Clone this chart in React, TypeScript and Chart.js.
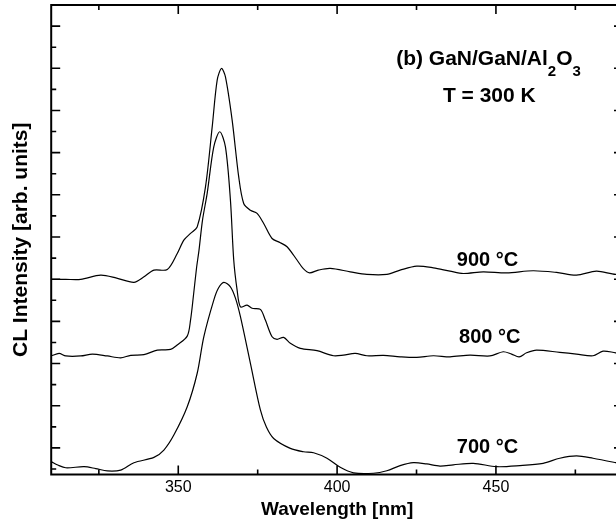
import React, { useEffect, useRef } from "react";
import { Chart, registerables } from "chart.js";

Chart.register(...registerables);

// ---- Data (wavelength in nm, CL intensity in arbitrary units) ----
const wl900 = [310.0, 314.59, 319.3, 325.58, 330.61, 336.04, 339.09, 342.33, 346.54, 349.68, 351.75, 353.86, 355.96, 358.57, 360.68, 362.25, 363.6, 364.85, 366.96, 369.03, 370.6, 372.71, 374.81, 376.89, 379.53, 382.13, 384.24, 387.38, 389.36, 391.34, 394.07, 397.84, 404.13, 409.37, 415.66, 419.83, 425.08, 430.3, 435.54, 439.72, 446.0, 453.36, 461.71, 469.06, 475.35, 481.63, 487.69, 490.0];
const cl900 = [9.99, 9.99, 9.99, 10.19, 10.05, 9.85, 10.1, 10.43, 10.46, 11.22, 11.85, 12.17, 12.48, 14.38, 17.22, 19.44, 19.99, 19.59, 17.54, 14.85, 13.59, 13.27, 13.12, 12.64, 11.93, 11.73, 11.54, 10.91, 10.5, 10.3, 10.43, 10.51, 10.35, 10.23, 10.23, 10.43, 10.62, 10.54, 10.38, 10.27, 10.35, 10.3, 10.4, 10.32, 10.19, 10.38, 10.23, 10.3];

const wl800 = [310.0, 312.48, 314.59, 319.3, 322.98, 327.69, 331.87, 335.01, 339.19, 343.4, 347.57, 349.68, 352.82, 353.86, 354.8, 355.75, 356.53, 357.63, 359.1, 361.18, 363.06, 364.85, 366.42, 367.46, 368.53, 369.57, 371.67, 373.24, 375.85, 377.42, 379.53, 381.1, 383.17, 385.28, 388.42, 393.66, 398.88, 402.02, 405.7, 409.37, 414.59, 419.83, 425.08, 430.3, 435.54, 441.83, 448.11, 452.29, 454.93, 457.31, 459.64, 462.78, 470.1, 475.35, 480.56, 483.71, 487.69, 490.0];
const cl800 = [6.36, 6.48, 6.36, 6.36, 6.45, 6.36, 6.27, 6.39, 6.42, 6.64, 6.67, 6.88, 7.3, 8.06, 9.25, 10.53, 11.38, 12.8, 14.07, 16.27, 16.99, 16.27, 13.75, 10.91, 9.48, 8.69, 8.77, 8.62, 8.57, 8.06, 7.27, 7.15, 7.24, 6.96, 6.72, 6.61, 6.37, 6.4, 6.48, 6.37, 6.39, 6.32, 6.29, 6.37, 6.32, 6.4, 6.36, 6.56, 6.45, 6.32, 6.51, 6.64, 6.53, 6.45, 6.37, 6.59, 6.51, 6.48];

const wl700 = [310.0, 312.07, 314.59, 320.34, 324.01, 327.69, 331.87, 336.04, 342.33, 345.47, 348.61, 352.82, 355.96, 358.04, 361.18, 362.66, 364.32, 366.42, 368.0, 369.57, 372.71, 375.85, 377.74, 380.03, 385.28, 389.45, 392.6, 396.81, 400.98, 405.16, 411.45, 415.66, 419.83, 424.01, 428.22, 432.4, 436.58, 442.86, 450.21, 457.53, 464.86, 470.1, 475.35, 480.56, 487.69, 490.0];
const cl700 = [1.35, 1.19, 1.06, 1.11, 1.02, 0.91, 0.95, 1.3, 1.55, 1.9, 2.61, 3.95, 5.54, 7.27, 9.01, 9.58, 9.85, 9.64, 9.1, 8.22, 6.01, 3.8, 2.99, 2.45, 1.98, 1.82, 1.77, 1.51, 1.08, 0.82, 0.8, 0.92, 1.16, 1.3, 1.24, 1.14, 1.2, 1.27, 1.11, 1.16, 1.27, 1.51, 1.62, 1.51, 1.3, 1.22];

const xTickLabels = [350, 400, 450];
const xMinorTicks = [325, 375, 425, 475];
const yMajorTicks = [2, 4, 6, 8, 10, 12, 14, 16, 18, 20, 22];
const yMinorTicks = [1, 3, 5, 7, 9, 11, 13, 15, 17, 19, 21];
const seriesNames = ["900", "800", "700"];

const FONT = '"Liberation Sans", Arial, sans-serif';

const toPoints = (xs: number[], ys: number[]) => xs.map((x, i) => ({ x, y: ys[i] }));

const decorPlugin = {
  id: "decor",
  afterDraw(chart: any) {
    const { ctx, chartArea: a, scales } = chart;
    const x = scales.x;
    const y = scales.y;
    ctx.save();
    ctx.strokeStyle = "#000";
    ctx.lineWidth = 2;
    ctx.strokeRect(a.left, a.top, a.right - a.left, a.bottom - a.top);
    ctx.lineWidth = 1.6;
    ctx.beginPath();
    const xt = (v: number, len: number) => {
      const p = x.getPixelForValue(v);
      ctx.moveTo(p, a.bottom);
      ctx.lineTo(p, a.bottom - len);
      ctx.moveTo(p, a.top);
      ctx.lineTo(p, a.top + len);
    };
    const yt = (v: number, len: number) => {
      const p = y.getPixelForValue(v);
      ctx.moveTo(a.left, p);
      ctx.lineTo(a.left + len, p);
      ctx.moveTo(a.right, p);
      ctx.lineTo(a.right - len, p);
    };
    xTickLabels.forEach((v) => xt(v, 9));
    xMinorTicks.forEach((v) => xt(v, 5));
    yMajorTicks.forEach((v) => yt(v, 9));
    yMinorTicks.forEach((v) => yt(v, 5));
    ctx.stroke();

    ctx.fillStyle = "#000";
    ctx.textAlign = "left";
    ctx.textBaseline = "alphabetic";

    // Sample title with subscripts
    const big = `bold 21px ${FONT}`;
    const sub = `bold 15px ${FONT}`;
    let tx = x.getPixelForValue(418.6);
    const ty = y.getPixelForValue(20.15);
    const parts: [string, boolean][] = [["(b) GaN/GaN/Al", false], ["2", true], ["O", false], ["3", true]];
    parts.forEach(([t, isSub]) => {
      ctx.font = isSub ? sub : big;
      ctx.fillText(t, tx, isSub ? ty + 11 : ty);
      tx += ctx.measureText(t).width;
    });
    ctx.font = big;
    ctx.fillText("T = 300 K", x.getPixelForValue(433.3), y.getPixelForValue(18.39));

    // Series labels
    const lab = `bold 20px ${FONT}`;
    const labPos = [
      [437.7, 10.62],
      [438.4, 6.97],
      [437.7, 1.76],
    ];
    seriesNames.forEach((n, i) => {
      ctx.font = lab;
      const lx = x.getPixelForValue(labPos[i][0]);
      const ly = y.getPixelForValue(labPos[i][1]);
      const t = n + " ";
      ctx.fillText(t, lx, ly);
      ctx.fillText("°C", lx + ctx.measureText(t).width, ly);
    });
    ctx.restore();
  },
};

export default function App() {
  const ref = useRef<HTMLCanvasElement | null>(null);
  useEffect(() => {
    document.body.style.margin = "0";
    if (!ref.current) return;
    const mk = (xs: number[], ys: number[], label: string) => ({
      label,
      data: toPoints(xs, ys),
      borderColor: "#000",
      borderWidth: 1.2,
      pointRadius: 0,
      fill: false,
      tension: 0.3,
    });
    const chart = new Chart(ref.current, {
      type: "line",
      data: {
        datasets: [
          mk(wl900, cl900, "900 °C"),
          mk(wl800, cl800, "800 °C"),
          mk(wl700, cl700, "700 °C"),
        ],
      },
      options: {
        animation: false,
        responsive: false,
        devicePixelRatio: 1,
        layout: { padding: { top: 5, left: 0, right: 2, bottom: 0.5 } },
        plugins: { legend: { display: false }, tooltip: { enabled: false } },
        scales: {
          x: {
            type: "linear",
            min: 310,
            max: 490,
            grid: { display: false, drawTicks: false },
            border: { display: false },
            afterBuildTicks: (s: any) => {
              s.ticks = xTickLabels.map((v) => ({ value: v }));
            },
            ticks: {
              color: "#000",
              font: { family: FONT, size: 16 },
              padding: 3,
              maxRotation: 0,
              autoSkip: false,
            },
            title: {
              display: true,
              text: "Wavelength [nm]",
              color: "#000",
              font: { family: FONT, size: 19, weight: "bold" },
              padding: { top: -1, bottom: 4 },
            },
          },
          y: {
            type: "linear",
            min: 0.74,
            max: 23,
            grid: { display: false, drawTicks: false },
            border: { display: false },
            ticks: { display: false },
            title: {
              display: true,
              text: "CL Intensity [arb. units]",
              color: "#000",
              font: { family: FONT, size: 21, weight: "bold" },
              padding: { top: 9, bottom: 17 },
            },
          },
        },
      },
      plugins: [decorPlugin],
    });
    return () => chart.destroy();
  }, []);
  return (
    <div style={{ width: 616, height: 526, overflow: "hidden", background: "#fff" }}>
      <canvas ref={ref} width={625} height={526} style={{ display: "block" }} />
    </div>
  );
}
